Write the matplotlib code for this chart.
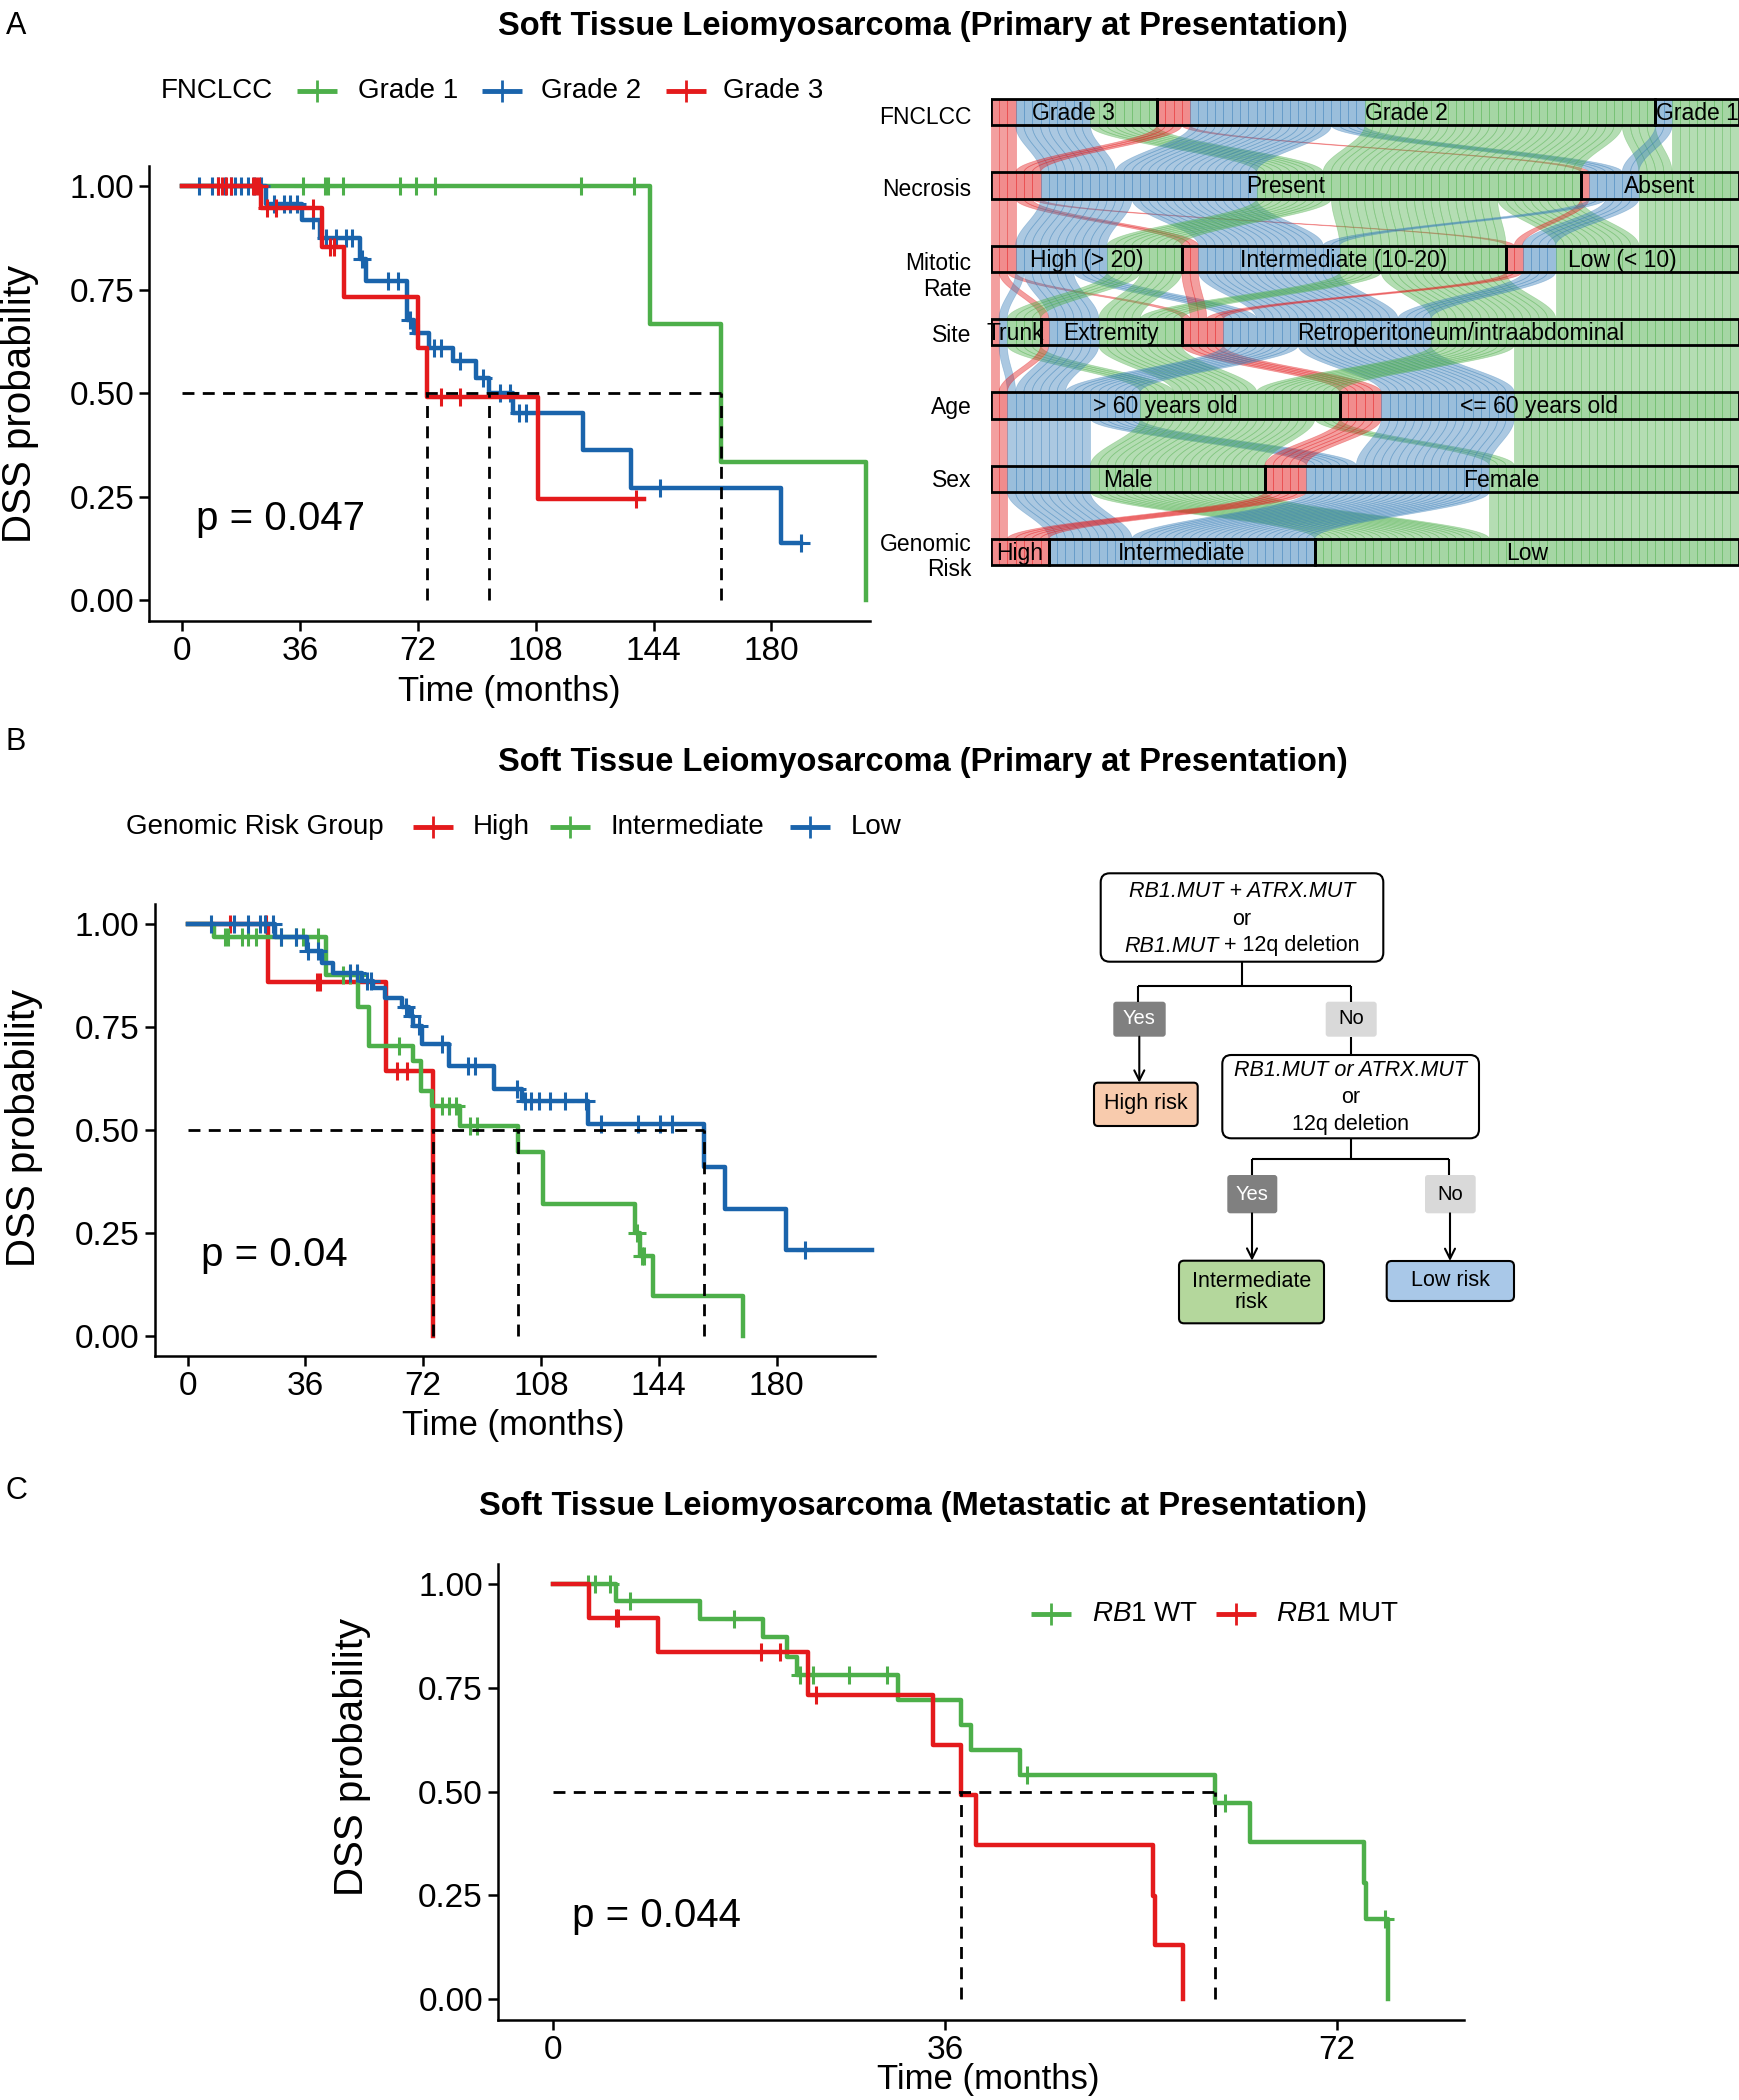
import numpy as np
import matplotlib
matplotlib.use("Agg")
import matplotlib.pyplot as plt
from matplotlib.patches import FancyBboxPatch, Rectangle
from matplotlib.collections import PolyCollection
from matplotlib.colors import to_rgba

plt.rcParams['font.family'] = ['Liberation Sans', 'DejaVu Sans']
plt.rcParams['mathtext.fontset'] = 'custom'
plt.rcParams['mathtext.rm'] = 'Liberation Sans'
plt.rcParams['mathtext.it'] = 'Liberation Sans:italic'

W, H = 1740, 2100
RED, BLUE, GREEN = '#E41A1C', '#1A64AC', '#4DAF4A'
LODE_COLS = ['#E41A1C', '#377EB8', '#4DAF4A']

# ---------------- panel A : KM by FNCLCC grade ----------------
g1_t = [0, 142.9, 164.5, 209.0]
g1_s = [1.0, 0.667, 0.333, 0.0]
g1_end = 209.0
g1_cens = [37, 43.5, 44.5, 49, 66.5, 71.3, 77.3, 121.7, 138]

g2_t = [0, 25.5, 36.5, 42, 54.3, 56, 68.7, 70.8, 75.5, 82.8, 89.6, 93.6, 101, 122.4, 137, 183]
g2_s = [1, .956, .919, .875, .823, .77, .677, .645, .609, .577, .536, .5, .452, .363, .27, .137]
g2_end = 189
g2_cens = [5, 9, 11, 13, 15, 16, 18, 20, 22, 24, 28, 31, 33, 35, 40, 44, 47, 50, 52, 55,
           63, 66, 69.5, 72, 77, 79, 85, 92, 97, 100, 103, 105, 146, 189]

g3_t = [0, 24, 42.8, 49.5, 72, 74.7, 108.6]
g3_s = [1, .948, .853, .732, .609, .49, .244]
g3_end = 141
g3_cens = [11, 12, 13.5, 15, 21.5, 22.5, 23.5, 26, 28.5, 40, 45, 46.5, 79, 85, 138.5]

# ---------------- panel B : KM by genomic risk ----------------
hi_t = [0, 24.7, 60.7, 75.1]
hi_s = [1, .86, .644, 0]
hi_end = 75.1
hi_cens = [12.9, 24.1, 39.5, 40.5, 64, 67]

int_t = [0, 8, 42.4, 52, 55.4, 69, 71.3, 74.8, 83.2, 101, 108.7, 136.8, 138.3, 142.3, 169.7]
int_s = [1, .968, .877, .8, .704, .668, .595, .559, .51, .446, .32, .25, .194, .097, 0]
int_end = 169.7
int_cens = [11.5, 12.5, 16.5, 18.5, 20.8, 28.7, 33, 35.2, 40, 47.5, 49.5, 51.8, 64.7,
            77.7, 80, 82.1, 86.4, 88.6, 137.2, 138.8, 139.5]

lo_t = [0, 26.6, 36.6, 41, 44.6, 53.2, 56.8, 60.4, 65.5, 67.7, 69, 71.7, 80, 93.6,
        102.2, 122.4, 157.7, 164.2, 182.9]
lo_s = [1, .97, .934, .906, .881, .861, .845, .821, .8, .777, .752, .708, .656, .599,
        .571, .515, .411, .308, .208]
lo_end = 209.2
lo_cens = [7.1, 14.3, 18.6, 22.2, 23.7, 26.2, 28.7, 33.1, 36.8, 40, 49.6, 51.8, 54.7,
           56.1, 66.9, 68.5, 70.8, 77.7, 85.6, 87.8, 100.8, 103, 105.1, 107.3, 110.9,
           115.2, 121.7, 126.2, 137.7, 144.3, 147.9, 188.7]

# ---------------- panel C : KM by RB1 status ----------------
wt_t = [0, 5.8, 13.5, 19.3, 21.5, 22.4, 31.7, 37.5, 38.4, 42.9, 60.8, 64, 74.5, 74.7, 76.7]
wt_s = [1, .96, .917, .872, .826, .782, .72, .66, .6, .541, .473, .379, .28, .192, 0]
wt_end = 76.7
wt_cens = [3.2, 3.8, 5.2, 7.1, 16.6, 22.7, 23.9, 27.2, 30.7, 43.5, 61.7, 76.4]

mut_t = [0, 3.3, 9.6, 23.4, 34.9, 37.5, 38.8, 55.1, 55.3, 57.9]
mut_s = [1, .92, .838, .734, .613, .493, .37, .249, .131, 0]
mut_end = 57.9
mut_cens = [5.8, 6.0, 19.1, 20.8, 24.1]

# ---------------- alluvial : counts per stratum (High, Intermediate, Low risk) ----------------
alluvial_axes = ['FNCLCC', 'Necrosis', 'Mitotic\nRate', 'Site', 'Age', 'Sex', 'Genomic\nRisk']
label_shift = [0.07, 0.06, 0.24, 0.04, 0.03, 0.03, 0.07]
fnclcc_strata = ['Grade 3', 'Grade 2', 'Grade 1']
fnclcc_counts = [[3, 9, 8], [4, 21, 35], [0, 2, 8]]
necrosis_strata = ['Present', 'Absent']
necrosis_counts = [[6, 26, 39], [1, 6, 12]]
mitotic_strata = ['High (> 20)', 'Intermediate (10-20)', 'Low (< 10)']
mitotic_counts = [[3, 11, 9], [2, 17, 20], [2, 4, 22]]
site_strata = ['Trunk', 'Extremity', 'Retroperitoneum/intraabdominal']
site_counts = [[1, 1, 4], [1, 6, 10], [5, 25, 37]]
age_strata = ['> 60 years old', '<= 60 years old']
age_counts = [[2, 16, 24], [5, 16, 27]]
sex_strata = ['Male', 'Female']
sex_counts = [[2, 10, 21], [5, 22, 30]]
risk_strata = ['High', 'Intermediate', 'Low']
risk_counts = [[7, 0, 0], [0, 32, 0], [0, 0, 51]]


def px_axes(fig, left, top, right, bottom):
    return fig.add_axes([left / W, 1 - bottom / H, (right - left) / W, (bottom - top) / H])


def km(ax, curves, xlim, xticks, ptext, pxy):
    meds = []
    for t, s, end, cens, col in curves:
        ax.step(list(t) + [end], list(s) + [s[-1]], where='post', color=col, lw=3.2, zorder=3)
        idx = np.searchsorted(t, cens, side='right') - 1
        ax.plot(cens, np.array(s)[idx], ls='none', marker='+', ms=13, mew=2.2, color=col, zorder=3)
        below = [tt for tt, ss in zip(t, s) if ss <= 0.5]
        if below:
            meds.append(below[0])
    dash = (0, (4.3, 3))
    ax.plot([0, max(meds)], [0.5, 0.5], color='black', lw=2, ls=dash, zorder=4)
    for m in meds:
        ax.plot([m, m], [0, 0.5], color='black', lw=2, ls=dash, zorder=4)
    ax.text(pxy[0], pxy[1], ptext, fontsize=29, ha='left', va='center')
    ax.set_xlim(xlim)
    ax.set_ylim(-0.05, 1.05)
    ax.set_xticks(xticks)
    ax.set_yticks([0, 0.25, 0.5, 0.75, 1.0])
    ax.set_yticklabels(['0.00', '0.25', '0.50', '0.75', '1.00'])
    for sp in ['top', 'right']:
        ax.spines[sp].set_visible(False)
    for sp in ['left', 'bottom']:
        ax.spines[sp].set_linewidth(1.8)
    ax.tick_params(labelsize=24, width=1.8, length=7, pad=4)


fig = plt.figure(figsize=(W / 100, H / 100), dpi=100)

axA = px_axes(fig, 149.5, 165.5, 869.7, 620.8)
km(axA, [(g1_t, g1_s, g1_end, g1_cens, GREEN),
         (g2_t, g2_s, g2_end, g2_cens, BLUE),
         (g3_t, g3_s, g3_end, g3_cens, RED)],
   (-10, 210), [0, 36, 72, 108, 144, 180], 'p = 0.047', (4.1, 0.197))

axB = px_axes(fig, 154.8, 903.7, 874.8, 1356.1)
km(axB, [(hi_t, hi_s, hi_end, hi_cens, RED),
         (int_t, int_s, int_end, int_cens, GREEN),
         (lo_t, lo_s, lo_end, lo_cens, BLUE)],
   (-10, 210), [0, 36, 72, 108, 144, 180], 'p = 0.04', (4.1, 0.195))

axC = px_axes(fig, 498.2, 1563.7, 1464.3, 2019.5)
km(axC, [(wt_t, wt_s, wt_end, wt_cens, GREEN),
         (mut_t, mut_s, mut_end, mut_cens, RED)],
   (-5.05, 83.7), [0, 36, 72], 'p = 0.044', (1.7, 0.199))

# ---------------- alluvial plot ----------------
strata_all = [fnclcc_strata, necrosis_strata, mitotic_strata, site_strata,
              age_strata, sex_strata, risk_strata]
counts_all = [fnclcc_counts, necrosis_counts, mitotic_counts, site_counts,
              age_counts, sex_counts, risk_counts]
n_pat = sum(sum(c) for c in risk_counts)

cats = []
for counts in counts_all:
    cats.append([np.repeat(np.arange(len(counts)), [c[r] for c in counts]) for r in range(3)])

pos, bar_bounds = [], []
for a, counts in enumerate(counts_all):
    p, bounds, x = {}, [], 0
    for k in range(len(counts)):
        start = x
        for r in range(3):
            for i in np.where(cats[a][r] == k)[0]:
                p[(r, i)] = x
                x += 1
        bounds.append((start, x))
    pos.append(p)
    bar_bounds.append(bounds)

row_px = 73.3
top_px = 112.2 - 0.25 * row_px
bot_px = 112.2 + 6.25 * row_px
axL = px_axes(fig, 990.7, top_px, 1738.6, bot_px)
axL.set_xlim(0, n_pat)
axL.set_ylim(6.25, -0.25)
axL.axis('off')

hh = 0.18
tt = np.linspace(0, 1, 40)
f = (1 - np.cos(np.pi * tt)) / 2
polys, fcs, ecs = [], [], []
for a in range(len(counts_all) - 1):
    y = a + hh + (1 - 2 * hh) * tt
    for key in pos[a]:
        x0, x1 = pos[a][key], pos[a + 1][key]
        xl = x0 + (x1 - x0) * f
        xr = xl + 1
        polys.append(np.column_stack([np.r_[xl, xr[::-1]], np.r_[y, y[::-1]]]))
        fcs.append(to_rgba(LODE_COLS[key[0]], 0.42))
        ecs.append(to_rgba(LODE_COLS[key[0]], 0.35))
axL.add_collection(PolyCollection(polys, facecolors=fcs, edgecolors=ecs, linewidths=0.5))

lodes, lfc = [], []
for a in range(len(counts_all)):
    for key, x0 in pos[a].items():
        lodes.append([(x0, a - hh), (x0 + 1, a - hh), (x0 + 1, a + hh), (x0, a + hh)])
        lfc.append(to_rgba(LODE_COLS[key[0]], 0.5))
axL.add_collection(PolyCollection(lodes, facecolors=lfc, edgecolors=[to_rgba(c, 0.6) for c in lfc],
                                  linewidths=0.4))
for a in range(len(counts_all)):
    for k, (s, e) in enumerate(bar_bounds[a]):
        axL.add_patch(Rectangle((s, a - hh), e - s, 2 * hh, fill=False, ec='black', lw=2))
        axL.text((s + e) / 2, a + 0.02, strata_all[a][k], ha='center', va='center', fontsize=16.5)
    axL.text(-2.3, a + label_shift[a], alluvial_axes[a], ha='right', va='center', fontsize=16.5,
             linespacing=1.15)

# ---------------- overlay: titles, legends, flowchart ----------------
ov = fig.add_axes([0, 0, 1, 1])
ov.set_xlim(0, W)
ov.set_ylim(H, 0)
ov.axis('off')
renderer = fig.canvas.get_renderer()

title_p = 'Soft Tissue Leiomyosarcoma (Primary at Presentation)'
title_m = 'Soft Tissue Leiomyosarcoma (Metastatic at Presentation)'
for ty, txt in [(27, title_p), (763, title_p), (1506, title_m)]:
    ov.text(923, ty, txt, fontsize=23.5, fontweight='bold', ha='center', va='center')
for lab, ly in [('A', 26), ('B', 742), ('C', 1491)]:
    ov.text(6, ly, lab, fontsize=22, ha='left', va='center')

for x, y in [(20, 404), (24, 1128), (352, 1757)]:
    ov.text(x, y, 'DSS probability', fontsize=29, rotation=90, ha='center', va='center')
for x, y in [(509, 691), (513, 1426), (988, 2080)]:
    ov.text(x, y, 'Time (months)', fontsize=25, ha='center', va='center')


def key(x0, x1, y, col):
    ov.plot([x0, x1], [y, y], color=col, lw=3.5, solid_capstyle='butt')
    ov.plot([(x0 + x1) / 2], [y], marker='+', ms=16, mew=2, color=col)


def mixed(xc, y, parts, fontsize):
    # parts: list of (string, style); laid out left to right, centred on xc
    objs = [ov.text(0, y, s, fontsize=fontsize, style=st, ha='left', va='center') for s, st in parts]
    widths = [o.get_window_extent(renderer).width for o in objs]
    x = xc - sum(widths) / 2
    for o, w in zip(objs, widths):
        o.set_x(x)
        x += w


ov.text(160.7, 91, 'FNCLCC', fontsize=20, ha='left', va='center')
for x0, tx, col, lab in [(297, 357.6, GREEN, 'Grade 1'), (482, 541, BLUE, 'Grade 2'),
                         (666, 723, RED, 'Grade 3')]:
    key(x0, x0 + 40, 91, col)
    ov.text(tx, 91, lab, fontsize=20, ha='left', va='center')

ov.text(126, 827, 'Genomic Risk Group', fontsize=20, ha='left', va='center')
for x0, tx, col, lab in [(412.6, 473, RED, 'High'), (550.5, 610.8, GREEN, 'Intermediate'),
                         (790, 850.6, BLUE, 'Low')]:
    key(x0, x0 + 40, 827, col)
    ov.text(tx, 827, lab, fontsize=20, ha='left', va='center')

for x0, tx, col, lab in [(1031, 1091.7, GREEN, r'$\mathit{RB1}$ WT'),
                         (1216, 1276.5, RED, r'$\mathit{RB1}$ MUT')]:
    key(x0, x0 + 40, 1614, col)
    ov.text(tx, 1614, lab, fontsize=20, ha='left', va='center')


def box(x0, y0, x1, y1, fc, ec='black', r=9, lw=1.5):
    ov.add_patch(FancyBboxPatch((x0, y0), x1 - x0, y1 - y0,
                                boxstyle='round,pad=0,rounding_size=%g' % r,
                                fc=fc, ec=ec, lw=lw))


def line(xs, ys):
    ov.plot(xs, ys, color='black', lw=1.5, solid_capstyle='butt')


def arrow(x, y0, y1):
    ov.annotate('', xy=(x, y1), xytext=(x, y0),
                arrowprops=dict(arrowstyle='->', lw=1.5, color='black', mutation_scale=18,
                                shrinkA=0, shrinkB=0))


fs = 15.5
box(1100.7, 873.3, 1383.3, 961.7, 'white')
ov.text(1242, 891.7, 'RB1.MUT + ATRX.MUT', fontsize=fs, style='italic', ha='center', va='center')
ov.text(1242, 919.3, 'or', fontsize=fs, ha='center', va='center')
mixed(1242, 946, [('RB1.MUT', 'italic'), (' + 12q deletion', 'normal')], fs)
line([1242.3, 1242.3], [961.7, 986])
line([1138.3, 1350.7], [986, 986])
line([1138.3, 1138.3], [986, 1001.7])
line([1350.7, 1350.7], [986, 1001.7])
box(1113.3, 1001.7, 1165.7, 1036.7, '#808080', ec='none', r=3)
ov.text(1139.5, 1019, 'Yes', fontsize=14.5, color='white', ha='center', va='center')
box(1325.7, 1001.7, 1376.7, 1036.7, '#D9D9D9', ec='none', r=3)
ov.text(1351.2, 1019, 'No', fontsize=14.5, ha='center', va='center')
arrow(1139.3, 1036.7, 1082.7)
box(1094, 1082.7, 1197.7, 1126, '#F8CBAD', r=4)
ov.text(1146, 1104, 'High risk', fontsize=15.5, ha='center', va='center')
line([1350.7, 1350.7], [1036.7, 1055])
box(1222.3, 1055, 1479, 1138.3, 'white')
ov.text(1350.7, 1070, 'RB1.MUT or ATRX.MUT', fontsize=fs, style='italic', ha='center', va='center')
ov.text(1350.7, 1097.7, 'or', fontsize=fs, ha='center', va='center')
ov.text(1350.7, 1124.3, '12q deletion', fontsize=fs, ha='center', va='center')
line([1350.7, 1350.7], [1138.3, 1159.3])
line([1251.7, 1449], [1159.3, 1159.3])
line([1251.7, 1251.7], [1159.3, 1175])
line([1449, 1449], [1159.3, 1175])
box(1227.3, 1175, 1277.3, 1213.3, '#808080', ec='none', r=3)
ov.text(1252.3, 1194, 'Yes', fontsize=14.5, color='white', ha='center', va='center')
box(1425, 1175, 1475.7, 1213.3, '#D9D9D9', ec='none', r=3)
ov.text(1450.3, 1194, 'No', fontsize=14.5, ha='center', va='center')
arrow(1252, 1213.3, 1260.7)
box(1179, 1260.7, 1324, 1323.3, '#B4D79C', r=5)
ov.text(1251.5, 1292, 'Intermediate\nrisk', fontsize=15.5, ha='center', va='center',
        linespacing=1.05)
arrow(1450, 1213.3, 1261)
box(1386.7, 1261, 1514, 1301, '#A9C8E8', r=5)
ov.text(1450.3, 1281, 'Low risk', fontsize=15.5, ha='center', va='center')

fig.savefig('out.png', dpi=100)
